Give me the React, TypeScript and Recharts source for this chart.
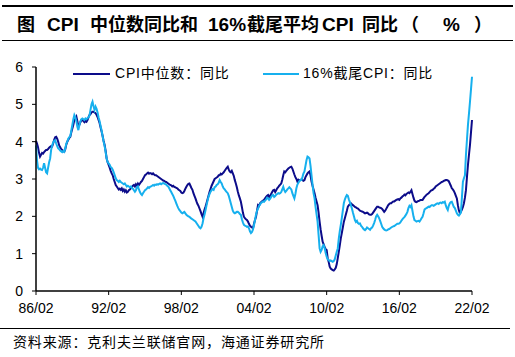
import React from 'react';
import { LineChart, Line, XAxis, YAxis } from 'recharts';

// Monthly data, 1986/02 .. 2022/02 (index 0 = 1986/02)
const medianCpi: number[] = [
  4.02, 3.95, 3.85, 3.70, 3.60, 3.65, 3.70, 3.68, 3.72, 3.75, 3.78, // 1986
  3.78, 3.80, 3.84, 3.86, 3.88, 3.87, 3.95, 4.05, 4.12, 4.13, 4.08, 4.00, // 1987
  3.90, 3.85, 3.80, 3.78, 3.75, 3.73, 3.80, 3.92, 4.00, 4.05, 4.10, 4.13, // 1988
  4.25, 4.35, 4.45, 4.58, 4.62, 4.67, 4.55, 4.40, 4.45, 4.52, 4.58, 4.58, // 1989
  4.55, 4.52, 4.55, 4.53, 4.58, 4.65, 4.71, 4.74, 4.78, 4.80, 4.80, 4.78, // 1990
  4.76, 4.72, 4.66, 4.58, 4.50, 4.38, 4.27, 4.15, 4.02, 3.91, 3.75, 3.55, // 1991
  3.45, 3.38, 3.30, 3.22, 3.15, 3.10, 3.00, 2.92, 2.84, 2.80, 2.76, 2.72, // 1992
  2.74, 2.71, 2.75, 2.68, 2.72, 2.66, 2.70, 2.64, 2.66, 2.70, 2.72, 2.75, // 1993
  2.78, 2.82, 2.84, 2.80, 2.86, 2.82, 2.88, 2.84, 2.88, 2.92, 2.95, 3.00, // 1994
  3.05, 3.10, 3.12, 3.15, 3.17, 3.14, 3.16, 3.15, 3.13, 3.15, 3.12, 3.10, // 1995
  3.10, 3.08, 3.06, 3.04, 3.02, 3.00, 2.98, 2.96, 2.95, 2.93, 2.92, 2.90, // 1996
  2.88, 2.86, 2.84, 2.83, 2.80, 2.82, 2.79, 2.78, 2.76, 2.75, 2.72, 2.70, // 1997
  2.68, 2.64, 2.62, 2.63, 2.68, 2.74, 2.79, 2.84, 2.87, 2.88, 2.82, 2.76, // 1998
  2.71, 2.62, 2.55, 2.48, 2.40, 2.33, 2.28, 2.21, 2.14, 2.06, 1.99, 2.08, // 1999
  2.18, 2.26, 2.36, 2.46, 2.56, 2.66, 2.74, 2.82, 2.88, 2.94, 3.00, 3.02, // 2000
  3.04, 3.06, 3.10, 3.10, 3.14, 3.12, 3.15, 3.18, 3.22, 3.26, 3.30, 3.33, // 2001
  3.25, 3.20, 3.18, 3.22, 3.15, 3.08, 2.97, 2.88, 2.78, 2.66, 2.56, 2.48, // 2002
  2.39, 2.25, 2.10, 1.99, 1.95, 1.92, 1.90, 1.86, 1.80, 1.75, 1.72, 1.70, // 2003
  1.68, 1.80, 1.90, 1.99, 2.15, 2.30, 2.28, 2.35, 2.38, 2.40, 2.42, 2.44, // 2004
  2.48, 2.52, 2.55, 2.57, 2.52, 2.55, 2.60, 2.65, 2.70, 2.71, 2.65, 2.70, // 2005
  2.75, 2.78, 2.82, 2.85, 2.88, 2.98, 3.10, 3.20, 3.18, 3.22, 3.25, 3.28, // 2006
  3.30, 3.32, 3.33, 3.28, 3.20, 3.12, 3.05, 3.00, 2.93, 2.98, 2.96, 2.98, // 2007
  2.98, 2.97, 2.95, 2.97, 3.05, 3.10, 3.15, 3.18, 3.20, 3.10, 2.93, 2.82, // 2008
  2.72, 2.62, 2.50, 2.40, 2.30, 2.10, 1.86, 1.65, 1.48, 1.32, 1.25, 1.18, // 2009
  1.12, 1.10, 0.88, 0.78, 0.65, 0.60, 0.58, 0.56, 0.55, 0.58, 0.62, 0.72, // 2010
  0.88, 1.05, 1.22, 1.41, 1.55, 1.70, 1.85, 1.95, 2.05, 2.15, 2.26, 2.30, // 2011
  2.32, 2.35, 2.32, 2.30, 2.28, 2.25, 2.24, 2.22, 2.21, 2.18, 2.15, 2.14, // 2012
  2.13, 2.12, 2.10, 2.08, 2.09, 2.10, 2.08, 2.05, 2.04, 2.04, 2.06, 2.10, // 2013
  2.14, 2.18, 2.22, 2.26, 2.26, 2.24, 2.23, 2.22, 2.20, 2.16, 2.12, 2.15, // 2014
  2.20, 2.25, 2.30, 2.33, 2.35, 2.35, 2.38, 2.40, 2.40, 2.42, 2.44, 2.45, // 2015
  2.46, 2.44, 2.48, 2.50, 2.53, 2.55, 2.58, 2.56, 2.60, 2.62, 2.64, 2.62, // 2016
  2.66, 2.70, 2.60, 2.50, 2.42, 2.39, 2.38, 2.40, 2.41, 2.42, 2.44, 2.44, // 2017
  2.44, 2.48, 2.52, 2.55, 2.58, 2.60, 2.62, 2.65, 2.68, 2.70, 2.71, 2.74, // 2018
  2.76, 2.80, 2.82, 2.84, 2.86, 2.88, 2.90, 2.92, 2.93, 2.95, 2.96, 2.97, // 2019
  2.97, 2.96, 2.94, 2.88, 2.82, 2.75, 2.72, 2.68, 2.62, 2.55, 2.48, 2.30, // 2020
  2.16, 2.08, 2.12, 2.18, 2.25, 2.35, 2.50, 2.70, 3.05, 3.38, 3.65, 3.91, // 2021
  4.25, 4.58, // 2022
];

const trimmedCpi: number[] = [
  3.90, 3.50, 3.30, 3.26, 3.28, 3.25, 3.24, 3.30, 3.42, 3.30, 3.18, // 1986
  3.15, 3.30, 3.45, 3.55, 3.78, 3.90, 3.98, 4.02, 4.04, 3.95, 3.88, 3.82, // 1987
  3.80, 3.76, 3.74, 3.72, 3.75, 3.73, 3.82, 3.95, 4.00, 4.08, 4.12, 4.15, // 1988
  4.30, 4.45, 4.60, 4.71, 4.65, 4.55, 4.40, 4.31, 4.45, 4.55, 4.60, 4.62, // 1989
  4.60, 4.58, 4.62, 4.60, 4.63, 4.65, 4.70, 4.85, 5.00, 5.07, 4.95, 4.85, // 1990
  4.94, 4.88, 4.78, 4.65, 4.55, 4.42, 4.30, 4.15, 4.00, 3.88, 3.72, 3.55, // 1991
  3.45, 3.42, 3.38, 3.32, 3.30, 3.25, 3.18, 3.10, 3.02, 2.97, 2.95, 2.92, // 1992
  2.95, 2.92, 2.90, 2.88, 2.86, 2.88, 2.84, 2.80, 2.82, 2.80, 2.78, 2.80, // 1993
  2.76, 2.74, 2.70, 2.66, 2.70, 2.78, 2.80, 2.72, 2.65, 2.60, 2.57, 2.62, // 1994
  2.66, 2.70, 2.72, 2.75, 2.78, 2.76, 2.79, 2.80, 2.82, 2.84, 2.82, 2.85, // 1995
  2.84, 2.86, 2.85, 2.87, 2.88, 2.86, 2.88, 2.89, 2.88, 2.86, 2.85, 2.82, // 1996
  2.80, 2.75, 2.70, 2.65, 2.60, 2.55, 2.48, 2.42, 2.35, 2.28, 2.22, 2.17, // 1997
  2.14, 2.10, 2.08, 2.10, 2.12, 2.08, 2.04, 2.02, 2.00, 1.99, 1.96, 1.94, // 1998
  1.92, 1.90, 1.88, 1.86, 1.82, 1.78, 1.74, 1.70, 1.68, 1.72, 1.81, 1.95, // 1999
  2.05, 2.17, 2.30, 2.42, 2.53, 2.60, 2.66, 2.70, 2.73, 2.71, 2.78, 2.80, // 2000
  2.84, 2.86, 2.90, 2.97, 2.92, 2.88, 2.80, 2.75, 2.72, 2.68, 2.65, 2.62, // 2001
  2.55, 2.45, 2.35, 2.25, 2.15, 2.10, 2.08, 2.10, 2.12, 2.12, 2.10, 2.06, // 2002
  2.04, 1.92, 1.84, 1.77, 1.75, 1.74, 1.72, 1.73, 1.68, 1.60, 1.55, 1.58, // 2003
  1.65, 1.77, 1.90, 2.05, 2.15, 2.21, 2.28, 2.32, 2.36, 2.38, 2.40, 2.39, // 2004
  2.42, 2.45, 2.50, 2.48, 2.44, 2.47, 2.52, 2.56, 2.57, 2.52, 2.54, 2.58, // 2005
  2.60, 2.62, 2.61, 2.62, 2.65, 2.72, 2.79, 2.70, 2.65, 2.68, 2.72, 2.75, // 2006
  2.78, 2.75, 2.72, 2.62, 2.55, 2.48, 2.60, 2.75, 2.85, 2.90, 2.94, 2.97, // 2007
  2.97, 3.05, 3.15, 3.20, 3.35, 3.50, 3.60, 3.58, 3.55, 3.35, 3.10, 2.85, // 2008
  2.62, 2.48, 2.25, 2.05, 1.86, 1.50, 1.14, 1.05, 1.10, 1.20, 1.23, 1.15, // 2009
  1.02, 0.92, 0.85, 0.83, 0.80, 0.82, 0.80, 0.78, 0.80, 0.85, 0.95, 1.05, // 2010
  1.14, 1.40, 1.60, 1.77, 1.95, 2.15, 2.35, 2.45, 2.52, 2.57, 2.55, 2.45, // 2011
  2.38, 2.30, 2.21, 2.10, 2.00, 1.90, 1.85, 1.88, 1.82, 1.80, 1.81, 1.75, // 2012
  1.72, 1.68, 1.65, 1.63, 1.66, 1.70, 1.68, 1.66, 1.64, 1.68, 1.70, 1.75, // 2013
  1.82, 1.90, 2.00, 2.04, 2.00, 1.95, 1.88, 1.80, 1.72, 1.68, 1.65, 1.63, // 2014
  1.62, 1.63, 1.65, 1.66, 1.68, 1.70, 1.72, 1.73, 1.74, 1.76, 1.78, 1.80, // 2015
  1.80, 1.81, 1.84, 1.88, 1.92, 1.95, 1.98, 2.02, 2.06, 2.12, 2.22, 2.28, // 2016
  2.25, 2.30, 2.15, 2.00, 1.90, 1.88, 1.86, 1.87, 1.88, 1.86, 1.90, 1.95, // 2017
  1.99, 2.08, 2.18, 2.21, 2.22, 2.24, 2.26, 2.25, 2.28, 2.30, 2.30, 2.28, // 2018
  2.30, 2.32, 2.34, 2.35, 2.33, 2.36, 2.37, 2.35, 2.38, 2.37, 2.39, 2.30, // 2019
  2.22, 2.17, 2.28, 2.35, 2.38, 2.39, 2.32, 2.25, 2.22, 2.15, 2.08, 2.04, // 2020
  2.02, 2.06, 2.10, 2.50, 2.93, 3.02, 3.10, 3.64, 4.05, 4.45, 4.75, 5.07, // 2021
  5.40, 5.74, // 2022
];

const xTickMonths = [0, 72, 144, 216, 288, 360, 432];
const xTickLabels = ['86/02', '92/02', '98/02', '04/02', '10/02', '16/02', '22/02'];
const yTicks = [0, 1, 2, 3, 4, 5, 6];

const seriesNames = ['CPI中位数：同比', '16%截尾CPI：同比'];
// [text, left x, font size]
const titleParts: [string, number, number][] = [
  ['图', 17, 18], ['CPI', 47, 19], ['中位数同比和', 90, 18], ['16%', 208, 19], ['截尾平均', 247, 18],
  ['CPI', 322, 19], ['同比', 362, 18], ['（', 401, 18], ['%', 443, 19], ['）', 474, 18],
];
const DARK = '#0c0c8a';
const LIGHT = '#16b0ee';

const data = medianCpi.map((v, i) => ({ m: i, median: v, trimmed: trimmedCpi[i] }));

const FONT = "'Liberation Sans', Arial, 'Noto Sans CJK SC', sans-serif";

export default function App() {
  return (
    <div style={{ position: 'absolute', left: 0, top: 0, width: 515, height: 357, background: '#fff', fontFamily: FONT }}>
      <div style={{ position: 'absolute', left: 2, top: 5, width: 511, height: 1.5, background: '#000' }} />
      {titleParts.map(([t, x, fs], i) => (
        <div key={i} style={{ position: 'absolute', left: x, top: 13, fontSize: fs, fontWeight: 'bold', whiteSpace: 'pre', lineHeight: '24px', color: '#000' }}>
          {t}
        </div>
      ))}
      <div style={{ position: 'absolute', left: 2, top: 39.5, width: 511, height: 1.5, background: '#000' }} />

      <div style={{ position: 'absolute', left: 0, top: 0 }}>
        <LineChart width={515} height={357} data={data} margin={{ top: 67, right: 43, bottom: 36, left: 6 }}>
          <XAxis
            dataKey="m"
            type="number"
            domain={[0, 432]}
            ticks={xTickMonths}
            tickFormatter={(v: number) => xTickLabels[xTickMonths.indexOf(v)] ?? ''}
            axisLine={{ stroke: '#000', strokeWidth: 1.5 }}
            tickLine={{ stroke: '#000' }}
            tickSize={4}
            tickMargin={8}
            height={30}
            tick={{ fill: '#000', fontSize: 14, fontFamily: FONT }}
            interval={0}
          />
          <YAxis
            type="number"
            domain={[0, 6]}
            ticks={yTicks}
            axisLine={{ stroke: '#000', strokeWidth: 1.5 }}
            tickLine={{ stroke: '#000' }}
            tickSize={4}
            tickMargin={9}
            width={30}
            tick={{ fill: '#000', fontSize: 14, fontFamily: FONT }}
            interval={0}
          />
          <Line type="linear" dataKey="median" stroke={DARK} strokeWidth={2} dot={false} isAnimationActive={false} name={seriesNames[0]} />
          <Line type="linear" dataKey="trimmed" stroke={LIGHT} strokeWidth={2} dot={false} isAnimationActive={false} name={seriesNames[1]} />
        </LineChart>
      </div>

      <div style={{ position: 'absolute', left: 73, top: 72.5, width: 37, height: 2.5, background: DARK }} />
      <div style={{ position: 'absolute', left: 115, top: 65, fontSize: 14, letterSpacing: 0.8, lineHeight: '17px', whiteSpace: 'pre', color: '#000' }}>{seriesNames[0]}</div>
      <div style={{ position: 'absolute', left: 263, top: 72.5, width: 36, height: 2.5, background: LIGHT }} />
      <div style={{ position: 'absolute', left: 303, top: 65, fontSize: 14, letterSpacing: 0.8, lineHeight: '17px', whiteSpace: 'pre', color: '#000' }}>{seriesNames[1]}</div>

      <div style={{ position: 'absolute', left: 0, top: 327.5, width: 510, height: 1.5, background: '#000' }} />
      <div style={{ position: 'absolute', left: 13, top: 334, fontSize: 14, letterSpacing: 0.85, lineHeight: '17px', whiteSpace: 'pre', color: '#000' }}>
        {'资料来源：克利夫兰联储官网，海通证券研究所'}
      </div>
    </div>
  );
}
